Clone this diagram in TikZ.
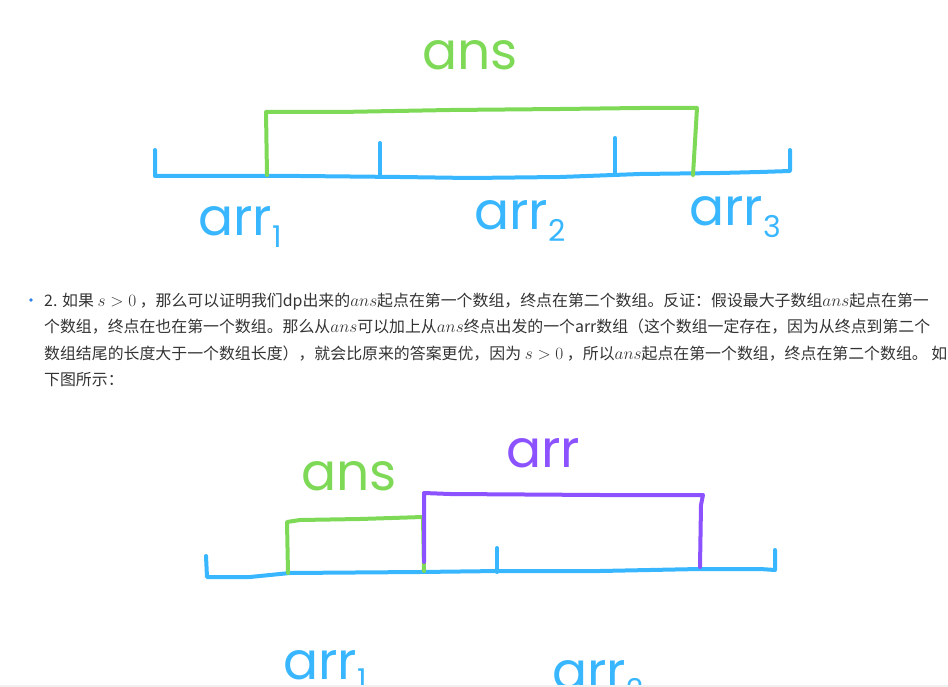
\documentclass[tikz,border=0pt]{standalone}
\usepackage{fontspec}
\setmainfont{Noto Sans CJK SC}
\newfontfamily\handfont{Poppins}
\usepackage{xcolor}
\usetikzlibrary{positioning}

\definecolor{penblue}{RGB}{56,182,255}
\definecolor{pengreen}{RGB}{126,217,87}
\definecolor{penpurple}{RGB}{140,82,255}
\definecolor{bodytext}{RGB}{51,51,51}
\definecolor{dotblue}{RGB}{40,130,240}
\newcommand{\hsub}[1]{\raisebox{-0.22em}{\fontsize{30}{30}\selectfont #1}}

\begin{document}
\begin{tikzpicture}[x=1pt,y=-1pt,
    pen/.style={line width=4pt, line cap=round, line join=round},
    hand/.style={font=\handfont\fontsize{52}{52}\selectfont, inner sep=0pt, anchor=base},
    body/.style={font=\fontsize{15.9}{15.9}\selectfont, text=bodytext, inner sep=0pt, anchor=base west}]
\useasboundingbox (0,0) rectangle (948,687);
\clip (0,0) rectangle (948,687);

% First sketch: ans spans arr1 .. arr3
\draw[pen, penblue] (155,150) -- (155,176) -- (300,176) -- (400,177) -- (470,178)
    -- (560,177) -- (640,174) -- (720,173) -- (760,172) -- (790,171) -- (790,150);
\draw[pen, penblue] (380,143) -- (380,176);
\draw[pen, penblue] (615,138) -- (615,173);
\draw[pen, pengreen] (267,175) -- (266,112) -- (340,112) -- (450,110) -- (560,109)
    -- (640,108) -- (697,108) -- (696,125) -- (693,175);

\node[hand, pengreen] (ans1) at (470,70) {ans};
\node[hand, penblue] (arr1a) at (240,236) {arr\hsub{1}};
\node[hand, penblue] (arr2a) at (520,230) {arr\hsub{2}};
\node[hand, penblue] (arr3a) at (735,226) {arr\hsub{3}};

% Text
\fill[dotblue] (31,300) circle (1.8);
\node[body] (line1) at (44,306) {2. 如果 $s>0$ ，那么可以证明我们dp出来的$ans$起点在第一个数组，终点在第二个数组。反证：假设最大子数组$ans$起点在第一};
\node[body] (line2) at (44,332) {个数组，终点在也在第一个数组。那么从$ans$可以加上从$ans$终点出发的一个arr数组（这个数组一定存在，因为从终点到第二个};
\node[body] (line3) at (44,359) {数组结尾的长度大于一个数组长度），就会比原来的答案更优，因为 $s>0$ ，所以$ans$起点在第一个数组，终点在第二个数组。 如};
\node[body] (line4) at (44,385) {下图所示：};

% Second sketch: ans ends where arr begins
\draw[pen, penblue] (206,556) -- (207,577) -- (250,577) -- (290,573) -- (420,572)
    -- (500,571) -- (600,571) -- (700,569) -- (760,569) -- (775,570) -- (775,550);
\draw[pen, penblue] (497,548) -- (497,572);
\draw[pen, pengreen] (288,573) -- (287,522) -- (300,520) -- (360,519) -- (423,517) -- (424,571);
\draw[pen, penpurple] (424,562) -- (424,493) -- (450,494) -- (600,495) -- (703,495)
    -- (701,505) -- (700,567);

\node[hand, pengreen] (ans2) at (349,490) {ans};
\node[hand, penpurple] (arr) at (543,467) {arr};
\node[hand, penblue] (arr1b) at (325,679) {arr\hsub{1}};
\node[hand, penblue] (arr2b) at (598,689) {arr\hsub{2}};

% Page edge
\fill[gray!12] (0,685) rectangle (948,687);
\end{tikzpicture}
\end{document}
